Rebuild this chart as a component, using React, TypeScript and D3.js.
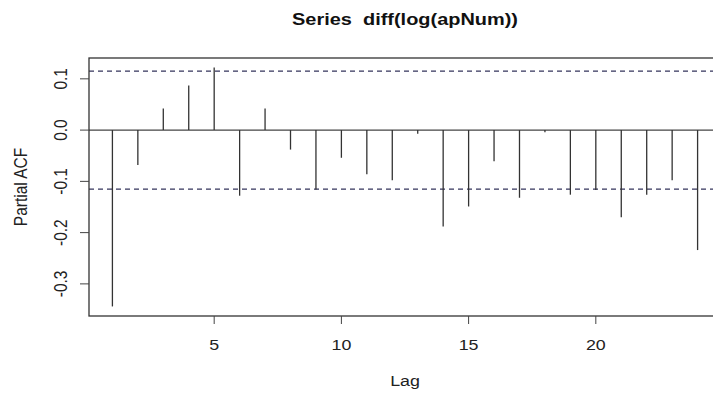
import { useEffect, useRef } from "react";
import * as d3 from "d3";

// PACF values
const lags = [1, 2, 3, 4, 5, 6, 7, 8, 9, 10, 11, 12, 13, 14, 15, 16, 17, 18, 19, 20, 21, 22, 23, 24];
const pacfValues = [
  -0.344, -0.068, 0.042, 0.087, 0.122, -0.128, 0.042, -0.038, -0.116, -0.054, -0.086, -0.098,
  -0.007, -0.188, -0.149, -0.061, -0.132, -0.004, -0.126, -0.117, -0.17, -0.126, -0.098, -0.234,
];
const confLimit = 0.115;
const xTicks = [5, 10, 15, 20];
const yTicks = [-0.3, -0.2, -0.1, 0.0, 0.1];
const title = "Series  diff(log(apNum))";

export default function App() {
  const svgRef = useRef<SVGSVGElement>(null);

  useEffect(() => {
    if (!svgRef.current) return;
    const svg = d3.select(svgRef.current);
    svg.selectAll("*").remove();

    const width = 713;
    const height = 393;
    const left = 89;
    const right = 721;
    const top = 58;
    const bottom = 316;
    const font = "'Liberation Sans', Arial, sans-serif";
    const fs = 15.5;
    const stretch = 1.15; // the source image is a bit wider than tall

    // R-style 4% axis extension
    const [xMin, xMax] = d3.extent(lags) as [number, number];
    const xPad = (xMax - xMin) * 0.04;
    const x = d3.scaleLinear().domain([xMin - xPad, xMax + xPad]).range([left, right]);

    const yLo = Math.min(d3.min(pacfValues)!, -confLimit);
    const yHi = Math.max(d3.max(pacfValues)!, confLimit);
    const yPad = (yHi - yLo) * 0.04;
    const y = d3.scaleLinear().domain([yLo - yPad, yHi + yPad]).range([bottom, top]);

    svg.attr("width", width).attr("height", height);
    svg.append("rect").attr("width", width).attr("height", height).attr("fill", "#fff");

    // title
    svg
      .append("text")
      .attr("x", (left + right) / 2)
      .attr("y", 24.5)
      .attr("text-anchor", "middle")
      .attr("font-family", font)
      .attr("font-weight", "bold")
      .attr("font-size", 17)
      .attr("fill", "#111")
      .attr("textLength", 226)
      .attr("lengthAdjust", "spacingAndGlyphs")
      .style("white-space", "pre")
      .text(title);

    // zero line
    svg
      .append("line")
      .attr("x1", left)
      .attr("x2", right)
      .attr("y1", y(0))
      .attr("y2", y(0))
      .attr("stroke", "#444")
      .attr("stroke-width", 1.2);

    // confidence limits
    [confLimit, -confLimit].forEach((c) => {
      svg
        .append("line")
        .attr("x1", left)
        .attr("x2", right)
        .attr("y1", y(c))
        .attr("y2", y(c))
        .attr("stroke", "#34345c")
        .attr("stroke-width", 1.2)
        .attr("stroke-dasharray", "5,4");
    });

    // stems
    svg
      .append("g")
      .selectAll("line")
      .data(lags)
      .enter()
      .append("line")
      .attr("x1", (d) => x(d))
      .attr("x2", (d) => x(d))
      .attr("y1", y(0))
      .attr("y2", (d, i) => y(pacfValues[i]))
      .attr("stroke", "#333")
      .attr("stroke-width", 1.3);

    // box
    svg
      .append("rect")
      .attr("x", left)
      .attr("y", top)
      .attr("width", right - left)
      .attr("height", bottom - top)
      .attr("fill", "none")
      .attr("stroke", "#333")
      .attr("stroke-width", 1.3);

    // x axis
    const xg = svg.append("g");
    xTicks.forEach((t) => {
      xg.append("line")
        .attr("x1", x(t))
        .attr("x2", x(t))
        .attr("y1", bottom)
        .attr("y2", bottom + 8)
        .attr("stroke", "#444");
      xg.append("text")
        .attr("transform", `translate(${x(t)},${bottom + 34}) scale(${stretch},1)`)
        .attr("text-anchor", "middle")
        .attr("font-family", font)
        .attr("font-size", fs)
        .attr("fill", "#222")
        .text(String(t));
    });

    // y axis
    const yg = svg.append("g");
    yTicks.forEach((t) => {
      yg.append("line")
        .attr("x1", left - 9)
        .attr("x2", left)
        .attr("y1", y(t))
        .attr("y2", y(t))
        .attr("stroke", "#444");
      yg.append("text")
        .attr("transform", `translate(${left - 22},${y(t)}) scale(${stretch},1) rotate(-90)`)
        .attr("text-anchor", "middle")
        .attr("font-family", font)
        .attr("font-size", fs)
        .attr("fill", "#222")
        .text(t.toFixed(1));
    });

    // axis titles
    svg
      .append("text")
      .attr("transform", `translate(${(left + right) / 2},386) scale(${stretch},1)`)
      .attr("text-anchor", "middle")
      .attr("font-family", font)
      .attr("font-size", fs)
      .attr("fill", "#222")
      .text("Lag");

    svg
      .append("text")
      .attr("transform", `translate(27,${(top + bottom) / 2}) scale(${stretch},1) rotate(-90)`)
      .attr("text-anchor", "middle")
      .attr("font-family", font)
      .attr("font-size", fs)
      .attr("fill", "#222")
      .text("Partial ACF");
  }, []);

  return (
    <div style={{ position: "fixed", left: 0, top: 0, width: 713, height: 393, overflow: "hidden" }}>
      <svg ref={svgRef} style={{ display: "block" }}></svg>
    </div>
  );
}
